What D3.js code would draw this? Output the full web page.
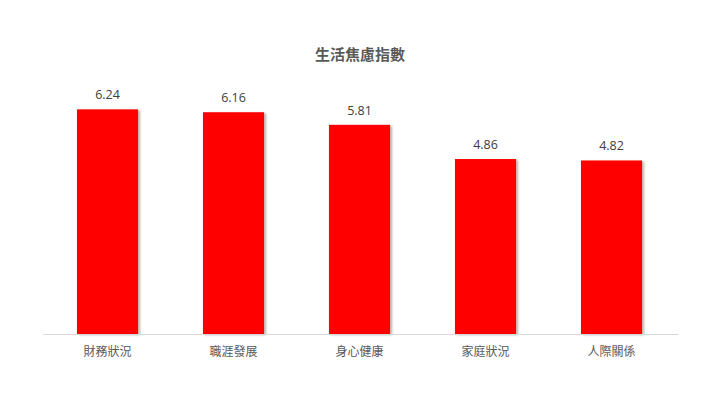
<!DOCTYPE html>
<html><head><meta charset="utf-8">
<script src="https://cdn.jsdelivr.net/npm/d3@7"></script>
<style>body{margin:0;background:#fff}svg{display:block}</style>
</head><body><svg id="c" width="720" height="405"></svg>
<script>
const title = "生活焦慮指數";
const categories = ["財務狀況","職涯發展","身心健康","家庭狀況","人際關係"];
const values = [6.24, 6.16, 5.81, 4.86, 4.82];

const svg = d3.select("#c");
const W = 720, H = 405;
const m = {left: 44.5, right: 45.5, top: 82, bottom: 71};
const x = d3.scaleBand().domain(categories).range([m.left, W - m.right]).paddingInner(0.515).paddingOuter(0.2575);
const y = d3.scaleLinear().domain([0, 7]).range([H - m.bottom, m.top]);

const defs = svg.append("defs");
const f = defs.append("filter").attr("id","sh").attr("x","-20%").attr("y","-20%").attr("width","140%").attr("height","140%");
f.append("feDropShadow").attr("dx",2).attr("dy",1).attr("stdDeviation",1.2).attr("flood-color","#000").attr("flood-opacity",0.3);

const font = "'Noto Sans CJK TC','Noto Sans',sans-serif";

svg.append("text").attr("x", 360).attr("y", 60).attr("text-anchor","middle")
  .attr("font-family", font).attr("font-size", 15).attr("font-weight","bold").attr("fill","#595959").text(title);

svg.append("g").selectAll("rect").data(values).join("rect")
  .attr("x", (d,i) => x(categories[i]))
  .attr("y", d => y(d))
  .attr("width", x.bandwidth())
  .attr("height", d => y(0) - y(d))
  .attr("fill", "#ff0000")
  .attr("filter","url(#sh)");

const ax = svg.append("g").attr("transform", `translate(0,${y(0)})`)
  .call(d3.axisBottom(x).tickSize(0).tickPadding(13));
ax.select(".domain").attr("stroke","#d9d9d9").attr("d", "M43,0.5H678");
ax.selectAll("text").attr("font-family", font).attr("font-size", 12).attr("fill","#595959");

svg.append("g").selectAll("text").data(values).join("text")
  .attr("x", (d,i) => x(categories[i]) + x.bandwidth()/2)
  .attr("y", d => y(d) - 10)
  .attr("text-anchor","middle")
  .attr("font-family", "'Open Sans','Noto Sans',sans-serif").attr("font-size", 12.5).attr("fill","#404040")
  .text(d => d.toFixed(2));
</script></body></html>
